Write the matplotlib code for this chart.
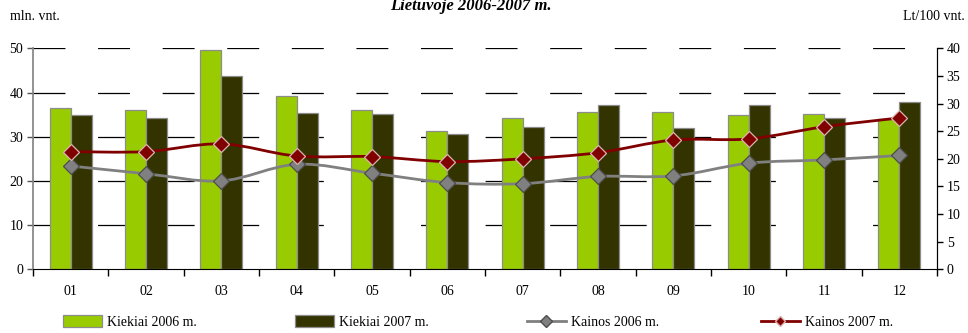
import numpy as np
import matplotlib
matplotlib.use("Agg")
import matplotlib.pyplot as plt
from matplotlib.path import Path
from matplotlib.patches import PathPatch, Patch
from matplotlib.lines import Line2D

plt.rcParams['font.family'] = ['Liberation Serif', 'DejaVu Serif']
plt.rcParams['lines.scale_dashes'] = False

months = ['01', '02', '03', '04', '05', '06', '07', '08', '09', '10', '11', '12']
kiekiai_2006 = [36.6, 36.0, 49.7, 39.1, 36.0, 31.3, 34.3, 35.6, 35.5, 34.9, 35.1, 34.0]
kiekiai_2007 = [34.8, 34.2, 43.7, 35.3, 35.1, 30.5, 32.3, 37.1, 32.0, 37.1, 34.3, 37.9]
kainos_2006 = [18.7, 17.3, 16.0, 19.0, 17.4, 15.7, 15.5, 16.8, 16.9, 19.2, 19.8, 20.6]
kainos_2007 = [21.3, 21.3, 22.7, 20.5, 20.4, 19.5, 20.0, 21.1, 23.4, 23.6, 25.8, 27.4]

W, H = 968, 333
fig = plt.figure(figsize=(W / 100, H / 100), dpi=100)
ax = fig.add_axes([33 / W, 1 - 269.3 / H, (937 - 33) / W, (269.3 - 48.3) / H])
ax2 = ax.twinx()

x = np.arange(len(months))
bw = 0.28

# gridlines (dashed, behind bars)
for v in [10, 20, 30, 40, 50]:
    ax.axhline(v, color='black', lw=0.9, dashes=(23.0, 23.5), zorder=0)

ax.bar(x - bw / 2, kiekiai_2006, bw, color='#99cc00', edgecolor='#8c8c8c', lw=0.9, zorder=2)
ax.bar(x + bw / 2, kiekiai_2007, bw, color='#333300', edgecolor='#8c8c8c', lw=0.9, zorder=2)


def smooth(xs, ys):
    # excel-like smoothed line: cubic bezier through the points
    pts = np.column_stack([xs, ys]).astype(float)
    n = len(pts)
    verts = [pts[0]]
    codes = [Path.MOVETO]
    for i in range(n - 1):
        p0 = pts[i - 1] if i > 0 else pts[i]
        p1 = pts[i]
        p2 = pts[i + 1]
        p3 = pts[i + 2] if i + 2 < n else pts[i + 1]
        c1 = p1 + (p2 - p0) / 6
        c2 = p2 - (p3 - p1) / 6
        verts += [c1, c2, p2]
        codes += [Path.CURVE4] * 3
    return Path(verts, codes)


ax2.add_patch(PathPatch(smooth(x, kainos_2006), fc='none', ec='#808080', lw=2, zorder=3))
ax2.add_patch(PathPatch(smooth(x, kainos_2007), fc='none', ec='#800000', lw=2, zorder=3))
ax2.plot(x, kainos_2006, 'D', ls='none', ms=8, mfc='#808080', mec='#4d4d4d', mew=0.9, zorder=4)
ax2.plot(x, kainos_2007, 'D', ls='none', ms=8, mfc='#800000', mec='#d9b3b3', mew=0.9, zorder=4)

ax.set_xlim(-0.5, 11.5)
ax.set_ylim(0, 50)
ax2.set_ylim(0, 40)
ax.set_yticks(range(0, 51, 10))
ax2.set_yticks(range(0, 41, 5))

ax.set_xticks(np.arange(-0.5, 12, 1))
ax.set_xticklabels([])
ax.set_xticks(x, minor=True)
ax.set_xticklabels(months, minor=True)
ax.tick_params(axis='x', which='major', direction='out', length=5, width=1, color='black')
ax.tick_params(axis='x', which='minor', length=0, pad=11, labelsize=10)
ax.tick_params(axis='y', direction='out', length=4, width=1, color='#555555', labelsize=10, pad=3)
ax2.tick_params(axis='y', direction='out', length=4, width=1, color='black', labelsize=10, pad=3)

for a in (ax, ax2):
    a.spines['top'].set_visible(False)
ax.spines['left'].set_color('#808080')
ax.spines['left'].set_linewidth(1.2)
ax.spines['bottom'].set_color('black')
ax2.spines['left'].set_visible(False)
ax2.spines['bottom'].set_visible(False)
ax2.spines['right'].set_color('black')

fig.text(471 / W, 1 - 9.5 / H, 'Lietuvoje 2006-2007 m.', ha='center', va='baseline',
         fontsize=12, fontweight='bold', fontstyle='italic')
fig.text(10 / W, 1 - 20 / H, 'mln. vnt.', ha='left', va='baseline', fontsize=10)
fig.text(965 / W, 1 - 20 / H, 'Lt/100 vnt.', ha='right', va='baseline', fontsize=10)

handles = [
    Patch(fc='#99cc00', ec='#8c8c8c', lw=0.9),
    Patch(fc='#333300', ec='#8c8c8c', lw=0.9),
    Line2D([], [], color='#808080', lw=2, marker='D', ms=6, mfc='#808080', mec='#4d4d4d'),
    Line2D([], [], color='#800000', lw=2, marker='D', ms=5, mfc='#800000', mec='#d9b3b3'),
]
labels = ['Kiekiai 2006 m.', 'Kiekiai 2007 m.', 'Kainos 2006 m.', 'Kainos 2007 m.']
legend_x = [63, 295, 527, 761]
for h, lab, lx in zip(handles, labels, legend_x):
    fig.legend(handles=[h], labels=[lab], loc='center left', frameon=False,
               bbox_to_anchor=(lx / W, 1 - 322 / H), fontsize=10,
               handlelength=2.8, handleheight=0.9, handletextpad=0.4, borderpad=0,
               borderaxespad=0)

fig.savefig('out.png', dpi=100)
